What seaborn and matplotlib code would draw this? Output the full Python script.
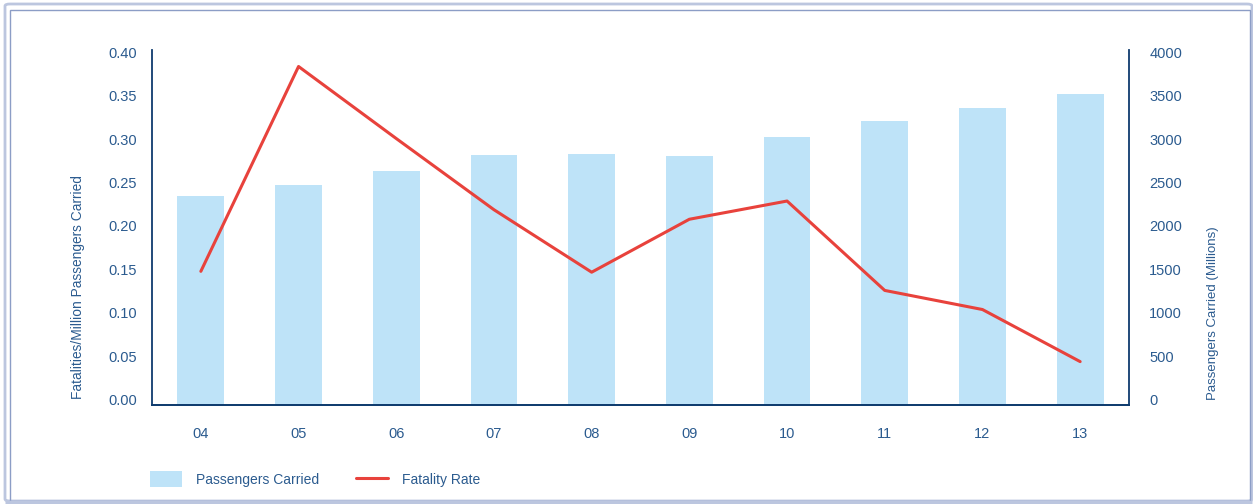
import numpy as np
import pandas as pd
import matplotlib
matplotlib.use("Agg")
import matplotlib.pyplot as plt
from matplotlib.patches import Patch, FancyBboxPatch, Rectangle
from matplotlib.lines import Line2D
from matplotlib.transforms import ScaledTranslation
import seaborn as sns

# Data
years = ["04", "05", "06", "07", "08", "09", "10", "11", "12", "13"]
passengers = [2410, 2535, 2695, 2880, 2890, 2870, 3090, 3270, 3420, 3585]
fatality_rate = [0.154, 0.390, 0.307, 0.225, 0.153, 0.214, 0.235, 0.132, 0.110, 0.050]
left_ticks = [0.00, 0.05, 0.10, 0.15, 0.20, 0.25, 0.30, 0.35, 0.40]
right_ticks = [0, 500, 1000, 1500, 2000, 2500, 3000, 3500, 4000]

BAR_COLOR = "#bee3f8"
LINE_COLOR = "#e8423c"
TEXT_COLOR = "#2b5b8f"
SPINE_COLOR = "#0f3c6e"

sns.set_theme(style="white")
plt.rcParams["font.family"] = ["Liberation Sans", "DejaVu Sans"]

W, H, DPI = 1253, 504, 100
fig = plt.figure(figsize=(W / DPI, H / DPI), dpi=DPI)
fig.patch.set_facecolor("white")

# Frame around the figure: a soft outer edge and a thin inner edge
fig.patches.append(FancyBboxPatch((5 / W, 3 / H), 1247 / W, 497 / H,
                                  boxstyle="round,pad=0,rounding_size=0.004",
                                  transform=fig.transFigure, fill=False,
                                  edgecolor="#bcc6df", linewidth=2.0))
fig.patches.append(Rectangle((9.5 / W, 3.5 / H), 1240.5 / W, 491 / H,
                             transform=fig.transFigure, fill=False,
                             edgecolor="#8c9dc6", linewidth=1.0))
fig.patches.append(Rectangle((5 / W, 2.5 / H), 1247 / W, 0,
                             transform=fig.transFigure, fill=False,
                             edgecolor="#bcc6df", linewidth=2.5))

left, right, bottom, top = 152, 1129, 405, 50
ax = fig.add_axes([left / W, 1 - bottom / H, (right - left) / W, (bottom - top) / H])
ax2 = ax.twinx()

df = pd.DataFrame({"year": years, "passengers": passengers, "rate": fatality_rate})

# Bars on the secondary (right) axis
sns.barplot(data=df, x="year", y="passengers", ax=ax2, color=BAR_COLOR,
            width=0.48, saturation=1, edgecolor="none")
# Line on the primary (left) axis, drawn above the bars
sns.lineplot(x=np.arange(len(years)), y=df["rate"], ax=ax, color=LINE_COLOR,
             linewidth=2.2, sort=False)
ax.set_zorder(ax2.get_zorder() + 1)
ax.patch.set_visible(False)

ymax = 0.409
ax.set_ylim(0, ymax)
ax2.set_ylim(0, ymax * 10000)
ax.set_xlim(-0.5, len(years) - 0.5)
ax2.set_xlim(-0.5, len(years) - 0.5)

ax.set_yticks(left_ticks)
ax.set_yticklabels([f"{t:.2f}" for t in left_ticks])
ax2.set_yticks(right_ticks)
ax2.set_yticklabels([str(t) for t in right_ticks])
ax.set_xticks(np.arange(len(years)))
ax.set_xticklabels(years)
ax2.set_xlabel("")
ax.set_xlabel("")

fs = 10.5
ax.tick_params(axis="y", length=0, pad=11, labelsize=fs, labelcolor=TEXT_COLOR)
ax2.tick_params(axis="y", length=0, pad=14.5, labelsize=fs, labelcolor=TEXT_COLOR)
ax.tick_params(axis="x", length=0, pad=16, labelsize=fs, labelcolor=TEXT_COLOR)
ax2.tick_params(axis="x", length=0, labelbottom=False)

# Lift tick labels slightly so they sit visually centred on their values
shift = ScaledTranslation(0, 4 / 72, fig.dpi_scale_trans)
for lab in ax.get_yticklabels() + ax2.get_yticklabels():
    lab.set_transform(lab.get_transform() + shift)

for a in (ax, ax2):
    for side in ("left", "right", "bottom"):
        a.spines[side].set_color(SPINE_COLOR)
        a.spines[side].set_linewidth(1.3)
    a.spines["top"].set_visible(False)
ax.spines["right"].set_visible(False)
ax2.spines["left"].set_visible(False)

ax.set_ylabel("Fatalities/Million Passengers Carried", fontsize=9.9, color=TEXT_COLOR,
              va="center")
ax.yaxis.set_label_coords((78 - left) / (right - left), (bottom - 287) / (bottom - top))
ax2.set_ylabel("Passengers Carried (Millions)", fontsize=9.5, color=TEXT_COLOR,
               rotation=90, va="center")
ax2.yaxis.set_label_coords((1213 - left) / (right - left), (bottom - 313) / (bottom - top))

handles = [Patch(facecolor=BAR_COLOR, edgecolor="none"),
           Line2D([], [], color=LINE_COLOR, linewidth=2.2)]
leg = fig.legend(handles, ["Passengers Carried", "Fatality Rate"], ncol=2,
                 loc="center left", bbox_to_anchor=(150 / W, 1 - 479 / H),
                 frameon=False, fontsize=10.0, handlelength=2.3, handleheight=1.3,
                 handletextpad=1.0, columnspacing=2.7, borderpad=0, borderaxespad=0)
for t in leg.get_texts():
    t.set_color(TEXT_COLOR)

fig.savefig("out.png", dpi=DPI)
